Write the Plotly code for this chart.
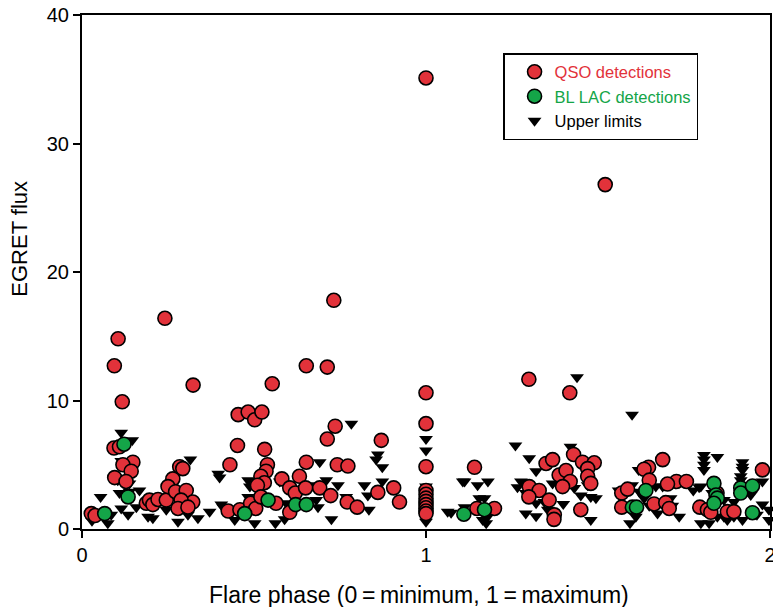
import plotly.graph_objects as go

# QSO detections
qso_x = [0.027, 0.038, 0.093, 0.109, 0.105, 0.094, 0.117, 0.148, 0.119, 0.143, 0.095, 0.128,
         0.187, 0.196, 0.206, 0.221, 0.245, 0.241, 0.323, 0.284, 0.293, 0.264, 0.25, 0.272,
         0.303, 0.322, 0.288, 0.279, 0.308,
         0.43, 0.425, 0.454, 0.483, 0.502, 0.523, 0.553, 0.452, 0.531, 0.539, 0.535, 0.52,
         0.53, 0.51, 0.459, 0.49, 0.505, 0.52, 0.564, 0.581, 0.632, 0.604, 0.62, 0.65, 0.604,
         0.652, 0.652, 0.713, 0.732, 0.736, 0.713, 0.691, 0.723, 0.742, 0.773, 0.771, 0.80,
         0.86, 0.870, 0.906, 0.923,
         1.0, 1.0, 1.0, 1.0, 1.0, 1.0, 1.0, 1.0, 1.0, 1.0, 1.0, 1.0,
         1.141, 1.148, 1.199, 1.299, 1.418, 1.521, 1.349, 1.368, 1.30, 1.329, 1.299, 1.358,
         1.373, 1.372, 1.429, 1.455, 1.489, 1.47, 1.387, 1.407, 1.419, 1.397, 1.47, 1.479, 1.45,
         1.688, 1.647, 1.634, 1.649, 1.728, 1.757, 1.702, 1.569, 1.586, 1.663, 1.697, 1.707,
         1.569, 1.796, 1.818, 1.828, 1.846, 1.876, 1.895, 1.978]
qso_y = [1.2, 1.05, 6.3, 6.4, 14.8, 12.7, 9.9, 5.2, 5.0, 4.5, 4.0, 3.7,
         2.0, 2.25, 1.9, 2.3, 2.25, 16.4, 11.2, 4.85, 4.7, 3.9, 3.3, 2.9,
         3.0, 2.1, 2.25, 1.6, 1.7,
         5.0, 1.4, 8.9, 9.1, 8.5, 9.1, 11.3, 6.5, 6.2, 5.0, 4.5, 4.1,
         3.6, 3.4, 1.5, 2.0, 1.6, 2.5, 2.0, 3.9, 4.1, 3.2, 2.8, 3.2, 1.3,
         5.2, 12.7, 12.6, 17.8, 8.0, 7.0, 3.2, 2.6, 5.0, 4.9, 2.1, 1.7,
         2.85, 6.9, 3.2, 2.1,
         35.1, 10.6, 8.2, 4.85, 3.0, 2.7, 2.4, 2.15, 1.9, 1.65, 1.4, 1.2,
         4.8, 1.6, 1.6, 11.65, 10.6, 26.8, 5.1, 5.4, 3.3, 3.0, 2.5, 2.25,
         1.1, 0.75, 5.8, 5.2, 5.15, 4.7, 4.2, 4.55, 3.7, 3.3, 4.1, 3.55, 1.5,
         5.4, 4.8, 4.65, 3.8, 3.7, 3.7, 3.5, 2.8, 3.1, 1.95, 2.05, 1.6,
         1.7, 1.7, 1.5, 1.3, 2.8, 1.35, 1.35, 4.6]

# BL LAC detections
bll_x = [0.066, 0.122, 0.134, 0.473, 0.541, 0.621, 0.652, 1.11, 1.17, 1.639, 1.60, 1.612,
         1.837, 1.843, 1.847, 1.837, 1.915, 1.915, 1.949, 1.949]
bll_y = [1.2, 6.6, 2.5, 1.2, 2.25, 1.9, 1.9, 1.15, 1.5, 3.0, 1.7, 1.7,
         3.55, 2.65, 2.4, 2.0, 3.2, 2.8, 3.35, 1.27]

# Upper limits
ul_x = [0.029, 0.054, 0.075, 0.085, 0.114, 0.134, 0.158, 0.109, 0.138, 0.167, 0.104, 0.124,
        0.138, 0.114, 0.114, 0.146, 0.192, 0.206, 0.245, 0.279, 0.308, 0.337, 0.371, 0.315,
        0.396, 0.40, 0.405, 0.41, 0.444, 0.483, 0.488, 0.483, 0.502, 0.562, 0.575, 0.589,
        0.594, 0.662, 0.647, 0.681, 0.686, 0.691, 0.71, 0.744, 0.725, 0.783, 0.86, 0.855,
        0.873, 0.873, 0.821, 0.831, 0.768, 0.834,
        1.0, 1.0, 1.0, 1.0, 1.063, 1.073, 1.107, 1.112, 1.15, 1.18, 1.155, 1.17, 1.112,
        1.165, 1.175, 1.18, 1.439, 1.26, 1.30, 1.32, 1.42, 1.276, 1.266, 1.29, 1.32, 1.344,
        1.399, 1.29, 1.32, 1.354, 1.431, 1.45, 1.479, 1.494, 1.47, 1.368, 1.479,
        1.599, 1.618, 1.668, 1.688, 1.726, 1.777, 1.794, 1.56, 1.599, 1.62, 1.634, 1.711,
        1.716, 1.593, 1.61, 1.649, 1.673, 1.736, 1.808, 1.808, 1.808, 1.808, 1.847, 1.799,
        1.832, 1.799, 1.823, 1.847, 1.866, 1.876, 1.895, 1.866, 1.895, 1.92, 1.92, 1.92,
        1.915, 1.915, 1.949, 1.978, 1.944, 1.978, 1.997, 1.997, 1.92, 1.962]
ul_y = [0.65, 2.5, 0.44, 1.1, 1.6, 1.1, 1.7, 2.8, 2.9, 3.0, 3.8, 3.7,
        3.55, 5.3, 7.5, 6.9, 0.96, 0.83, 1.5, 0.57, 1.1, 0.83, 1.35, 5.4,
        4.3, 4.0, 1.9, 1.7, 0.7, 3.8, 3.3, 2.5, 0.44, 0.44, 3.7, 0.75,
        2.0, 3.4, 3.2, 2.25, 1.7, 5.2, 3.8, 3.4, 0.75, 8.2, 5.8, 5.4,
        4.8, 3.7, 3.4, 2.6, 2.5, 1.5,
        7.0, 6.1, 3.3, 0.57, 1.35, 1.27, 3.7, 3.7, 3.4, 3.7, 2.4, 2.4, 1.7,
        0.7, 0.45, 1.0, 11.8, 6.5, 5.5, 4.5, 6.4, 3.7, 3.25, 2.8, 2.0, 2.1,
        1.95, 1.2, 1.0, 1.5, 3.2, 2.6, 2.5, 2.4, 3.4, 3.55, 0.7,
        8.9, 4.6, 3.3, 3.3, 3.55, 3.0, 3.25, 3.0, 3.4, 2.9, 2.4, 2.4,
        1.8, 0.44, 0.96, 1.8, 1.2, 0.96, 5.75, 5.4, 5.0, 4.6, 5.6, 3.3,
        2.8, 0.44, 0.44, 0.96, 0.96, 0.7, 0.96, 2.25, 2.1, 5.2, 4.85, 4.6,
        4.1, 3.8, 2.9, 3.7, 2.65, 1.9, 1.5, 0.7, 0.7, 1.1]

x_ticks = [0, 1, 2]
y_ticks = [0, 10, 20, 30, 40]

RED = "#e2323a"
GREEN = "#14a548"
FONT = "Liberation Sans, Arial, sans-serif"

fig = go.Figure()
fig.add_trace(go.Scatter(
    x=ul_x, y=ul_y, mode="markers", name="Upper limits", legendrank=3,
    cliponaxis=False,
    marker=dict(symbol="triangle-down", size=12, color="black", line=dict(width=0))))
fig.add_trace(go.Scatter(
    x=qso_x, y=qso_y, mode="markers", legendrank=1, cliponaxis=False,
    name=f"<span style='color:{RED}'>QSO detections</span>",
    marker=dict(symbol="circle", size=14, color=RED, line=dict(width=1.6, color="black"))))
fig.add_trace(go.Scatter(
    x=bll_x, y=bll_y, mode="markers", legendrank=2, cliponaxis=False,
    name=f"<span style='color:{GREEN}'>BL LAC detections</span>",
    marker=dict(symbol="circle", size=14, color=GREEN, line=dict(width=1.6, color="black"))))

fig.update_layout(
    width=773, height=607,
    margin=dict(l=82, r=3, t=15, b=78, autoexpand=False),
    plot_bgcolor="white", paper_bgcolor="white",
    font=dict(family=FONT, color="black", size=20),
    showlegend=True,
    legend=dict(
        x=0.612, y=0.926, xanchor="left", yanchor="top",
        bordercolor="black", borderwidth=1.5, bgcolor="white",
        font=dict(family=FONT, size=16.5, color="black"),
        tracegroupgap=0, itemsizing="trace", indentation=10,
    ),
    xaxis=dict(
        range=[0, 2], tickvals=x_ticks, ticktext=[str(v) for v in x_ticks],
        showgrid=False, zeroline=False, showline=True, linecolor="black", linewidth=2,
        mirror=True, ticks="outside", ticklen=7, tickwidth=2, tickcolor="black",
        tickfont=dict(size=20), ticklabeloverflow="allow", automargin=False,
    ),
    yaxis=dict(
        range=[0, 40], tickvals=y_ticks,
        showgrid=False, zeroline=False, showline=True, linecolor="black", linewidth=2,
        mirror=True, ticks="outside", ticklen=7, tickwidth=2, tickcolor="black",
        tickfont=dict(size=20), automargin=False,
    ),
    annotations=[
        dict(text="Flare phase (0\u2009=\u2009minimum, 1\u2009=\u2009maximum)",
             xref="paper", yref="paper", x=0.49, y=-0.128, xanchor="center", yanchor="middle",
             showarrow=False, font=dict(size=23)),
        dict(text="EGRET flux", textangle=-90,
             xref="paper", yref="paper", x=-0.09, y=0.565, xanchor="center", yanchor="middle",
             showarrow=False, font=dict(size=22)),
    ],
)

fig.write_html("out.html")
